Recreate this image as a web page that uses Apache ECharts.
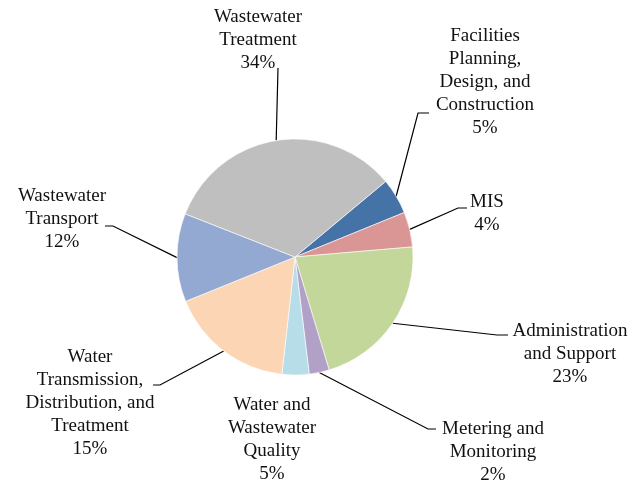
<!DOCTYPE html>
<html>
<head>
<meta charset="utf-8">
<script src="https://cdn.jsdelivr.net/npm/echarts@6/dist/echarts.min.js"></script>
<style>
  html, body { margin: 0; padding: 0; background: #fff; }
  .main { width: 633px; height: 487px; }
</style>
</head>
<body>
<div class="main"></div>
<script>
// categories, clockwise from the top-right
var categories = [
  'Facilities\nPlanning,\nDesign, and\nConstruction',
  'MIS',
  'Administration\nand Support',
  'Metering and\nMonitoring',
  'Water and\nWastewater\nQuality',
  'Water\nTransmission,\nDistribution, and\nTreatment',
  'Wastewater\nTransport',
  'Wastewater\nTreatment'
];
// slice shares as drawn
var shares = [4.9, 4.8, 21.7, 2.75, 3.7, 17.1, 12.1, 33.0];
// percentages printed on the labels
var pctLabels = ['5%', '4%', '23%', '2%', '5%', '15%', '12%', '34%'];

var colors = ['#4572A7', '#D99694', '#C4D79B', '#B2A1C7', '#B7DDE8', '#FCD5B4', '#93A9D1', '#BFBFBF'];

// where each label sits and how its leader line bends
var labelSpots = [
  { x: 485, y: 82, elbow: [418, 113], end: [429, 113] },
  { x: 487, y: 214, elbow: [458, 208], end: [467, 208] },
  { x: 570, y: 354, elbow: [497, 335], end: [508, 335] },
  { x: 493, y: 452, elbow: [428, 429], end: [436, 429] },
  { x: 272, y: 440, elbow: null, end: null },
  { x: 90, y: 403, elbow: [160, 385], end: [153, 385] },
  { x: 62, y: 219, elbow: [113, 226], end: [105, 226] },
  { x: 258, y: 40, elbow: [278, 68], end: [278, 68] }
];

var myChart = echarts.init(document.querySelector('.main'));

var seriesData = categories.map(function (name, i) {
  var item = { name: name, value: shares[i], itemStyle: { color: colors[i] } };
  if (!labelSpots[i].elbow) item.labelLine = { show: false };
  return item;
});

myChart.setOption({
  animation: false,
  series: [
    {
      type: 'pie',
      center: [295, 257],
      radius: 118,
      startAngle: 39.8,
      clockwise: true,
      data: seriesData,
      itemStyle: { borderColor: '#fff', borderWidth: 0.6 },
      label: {
        show: true,
        position: 'outside',
        fontFamily: 'Liberation Serif',
        fontSize: 19,
        lineHeight: 23,
        color: '#111',
        align: 'center',
        formatter: function (p) {
          return p.name + '\n' + pctLabels[p.dataIndex];
        }
      },
      labelLine: {
        show: true,
        lineStyle: { color: '#000', width: 1.2 }
      },
      labelLayout: function (p) {
        var s = labelSpots[p.dataIndex];
        var out = { x: s.x, y: s.y, align: 'center', verticalAlign: 'middle' };
        if (s.elbow && p.labelLinePoints) {
          out.labelLinePoints = [p.labelLinePoints[0], s.elbow, s.end];
        }
        return out;
      }
    }
  ]
});
</script>
</body>
</html>
